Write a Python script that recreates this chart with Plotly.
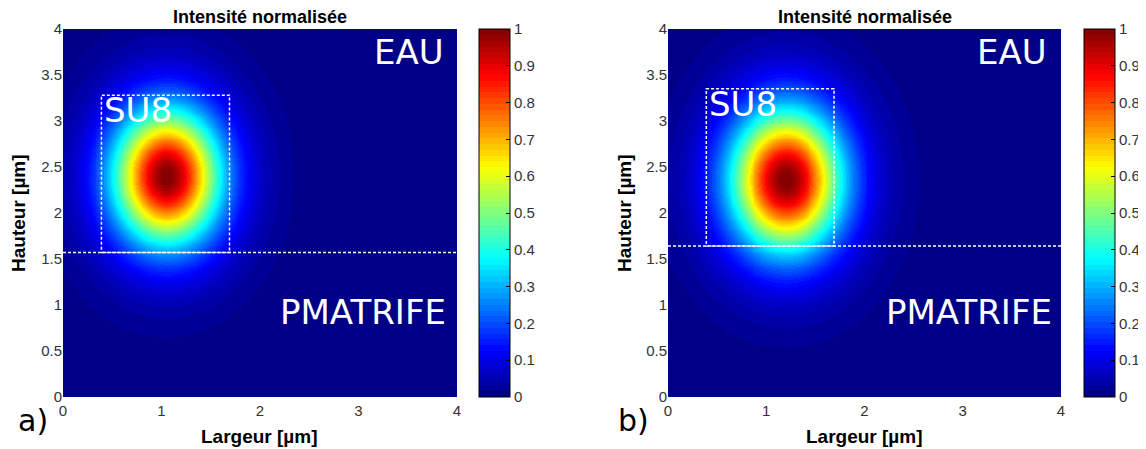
import numpy as np
import plotly.graph_objects as go

# ---- data ----
x_grid = np.round(np.arange(0, 4.0001, 0.02), 3)          # Largeur [um]
y_grid = np.round(np.arange(0, 4.0001, 0.02), 3)          # Hauteur [um]

# mode parameters per panel: centre x, centre y, width x, width y
mode_a = {"xc": 1.05, "yc": 2.40, "wx": 0.49, "wy": 0.66}
mode_b = {"xc": 1.20, "yc": 2.36, "wx": 0.51, "wy": 0.69}

# guide / core rectangle  (x0, x1, y0, y1) and substrate interface height
core_a = [0.39, 1.69, 1.57, 3.28]
core_b = [0.39, 1.69, 1.64, 3.35]
interface_a = 1.57
interface_b = 1.64

cbar_ticks = [0, 0.1, 0.2, 0.3, 0.4, 0.5, 0.6, 0.7, 0.8, 0.9, 1]
cbar_ticktext = ["0", "0.1", "0.2", "0.3", "0.4", "0.5", "0.6", "0.7", "0.8", "0.9", "1"]
x_ticks = [0, 1, 2, 3, 4]
y_ticks = [0, 0.5, 1, 1.5, 2, 2.5, 3, 3.5, 4]
y_ticktext = ["0", "0.5", "1", "1.5", "2", "2.5", "3", "3.5", "4"]


def intensity(p):
    X, Y = np.meshgrid(x_grid, y_grid)
    r2 = ((X - p["xc"]) / p["wx"]) ** 2 + ((Y - p["yc"]) / p["wy"]) ** 2
    z = 0.75 * np.exp(-r2) + 0.25 * np.exp(-r2 / 2.5)
    return z / z.max()


# MATLAB jet, 64 levels
def jet_scale(n=64):
    scale = []
    for i in range(n):
        v = (i + 0.5) / n
        r = np.clip(1.5 - abs(4 * v - 3), 0, 1)
        g = np.clip(1.5 - abs(4 * v - 2), 0, 1)
        b = np.clip(1.5 - abs(4 * v - 1), 0, 1)
        c = f"rgb({int(r*255)},{int(g*255)},{int(b*255)})"
        scale.append([i / n, c])
        scale.append([(i + 1) / n, c])
    return scale


JET = jet_scale()

# the page body has an 8px margin, so the figure is drawn from (8, 8)
OFF = 8
W, H = 1146 - OFF, 449 - OFF
def px(xp):
    return (xp - OFF) / W
def py(yp):
    return 1 - (yp - OFF) / H

dom_a = [px(63), px(457)]
dom_b = [px(668), px(1061)]
ydom = [py(397), py(29)]

fig = go.Figure()

tickfont = dict(family="Liberation Sans, Arial", size=15, color="#333333")

for i, (p, dom, cbx) in enumerate([(mode_a, dom_a, px(479)), (mode_b, dom_b, px(1084))]):
    xa = "x" if i == 0 else "x2"
    ya = "y" if i == 0 else "y2"
    fig.add_trace(go.Heatmap(
        x=x_grid, y=y_grid, z=intensity(p), zmin=0, zmax=1,
        colorscale=JET, xaxis=xa, yaxis=ya, zsmooth="best",
        colorbar=dict(
            x=cbx, xanchor="left", xref="paper",
            y=ydom[0], yanchor="bottom", yref="paper",
            len=ydom[1] - ydom[0], lenmode="fraction",
            thickness=31, thicknessmode="pixels",
            outlinewidth=1, outlinecolor="black",
            ticks="inside", ticklen=4, tickcolor="black",
            tickvals=cbar_ticks, ticktext=cbar_ticktext,
            tickfont=tickfont, xpad=0, ypad=0,
        ),
        hoverinfo="skip",
    ))

axis_common = dict(range=[0, 4], showgrid=False, zeroline=False, ticks="",
                   tickfont=tickfont, showline=False, fixedrange=True, automargin=False)

fig.update_layout(
    width=W, height=H,
    margin=dict(l=0, r=0, t=0, b=0, autoexpand=False),
    paper_bgcolor="white", plot_bgcolor="white",
    showlegend=False,
    xaxis=dict(domain=dom_a, anchor="y", tickvals=x_ticks, ticklabelstandoff=3, **axis_common),
    yaxis=dict(domain=ydom, anchor="x", tickvals=y_ticks, ticktext=y_ticktext, **axis_common),
    xaxis2=dict(domain=dom_b, anchor="y2", tickvals=x_ticks, ticklabelstandoff=3, **axis_common),
    yaxis2=dict(domain=ydom, anchor="x2", tickvals=y_ticks, ticktext=y_ticktext, **axis_common),
)

dash = dict(color="white", width=1.5, dash="3px,2px")
for core, inter, xr, yr in [(core_a, interface_a, "x", "y"), (core_b, interface_b, "x2", "y2")]:
    fig.add_shape(type="rect", xref=xr, yref=yr, x0=core[0], x1=core[1], y0=core[2], y1=core[3],
                  line=dash, fillcolor="rgba(0,0,0,0)")
    fig.add_shape(type="line", xref=xr, yref=yr, x0=0, x1=4, y0=inter, y1=inter, line=dash)

big = dict(family="DejaVu Sans", size=34, color="white")
labels = [
    ("x", "y", "EAU", 3.89, 3.75, "right"),
    ("x", "y", "SU8", 0.40, 3.12, "left"),
    ("x", "y", "PMATRIFE", 3.91, 0.92, "right"),
    ("x2", "y2", "EAU", 3.88, 3.75, "right"),
    ("x2", "y2", "SU8", 0.40, 3.18, "left"),
    ("x2", "y2", "PMATRIFE", 3.93, 0.92, "right"),
]
for xr, yr, t, xv, yv, anc in labels:
    fig.add_annotation(xref=xr, yref=yr, x=xv, y=yv, text=t, showarrow=False,
                       xanchor=anc, yanchor="middle", font=big)

bold = dict(family="Liberation Sans, Arial", size=19, color="black")
title_font = dict(family="Liberation Sans, Arial", size=18, color="black")
for dom, cx_lab in [(dom_a, 18), (dom_b, 624)]:
    mid = (dom[0] + dom[1]) / 2
    fig.add_annotation(xref="paper", yref="paper", x=mid, y=py(17), text="<b>Intensité normalisée</b>",
                       showarrow=False, xanchor="center", yanchor="middle", font=title_font,
                       borderpad=0)
    fig.add_annotation(xref="paper", yref="paper", x=mid, y=py(436), text="<b>Largeur [µm]</b>",
                       showarrow=False, xanchor="center", yanchor="middle", font=bold)
    fig.add_annotation(xref="paper", yref="paper", x=px(cx_lab), y=py(213), text="<b>Hauteur [µm]</b>",
                       showarrow=False, xanchor="center", yanchor="middle", textangle=-90, font=bold)

panel = dict(family="DejaVu Sans", size=30, color="black")
fig.add_annotation(xref="paper", yref="paper", x=px(33), y=py(420), text="a)", showarrow=False,
                   xanchor="center", yanchor="middle", font=panel)
fig.add_annotation(xref="paper", yref="paper", x=px(633), y=py(420), text="b)", showarrow=False,
                   xanchor="center", yanchor="middle", font=panel)

fig.write_html("out.html")
